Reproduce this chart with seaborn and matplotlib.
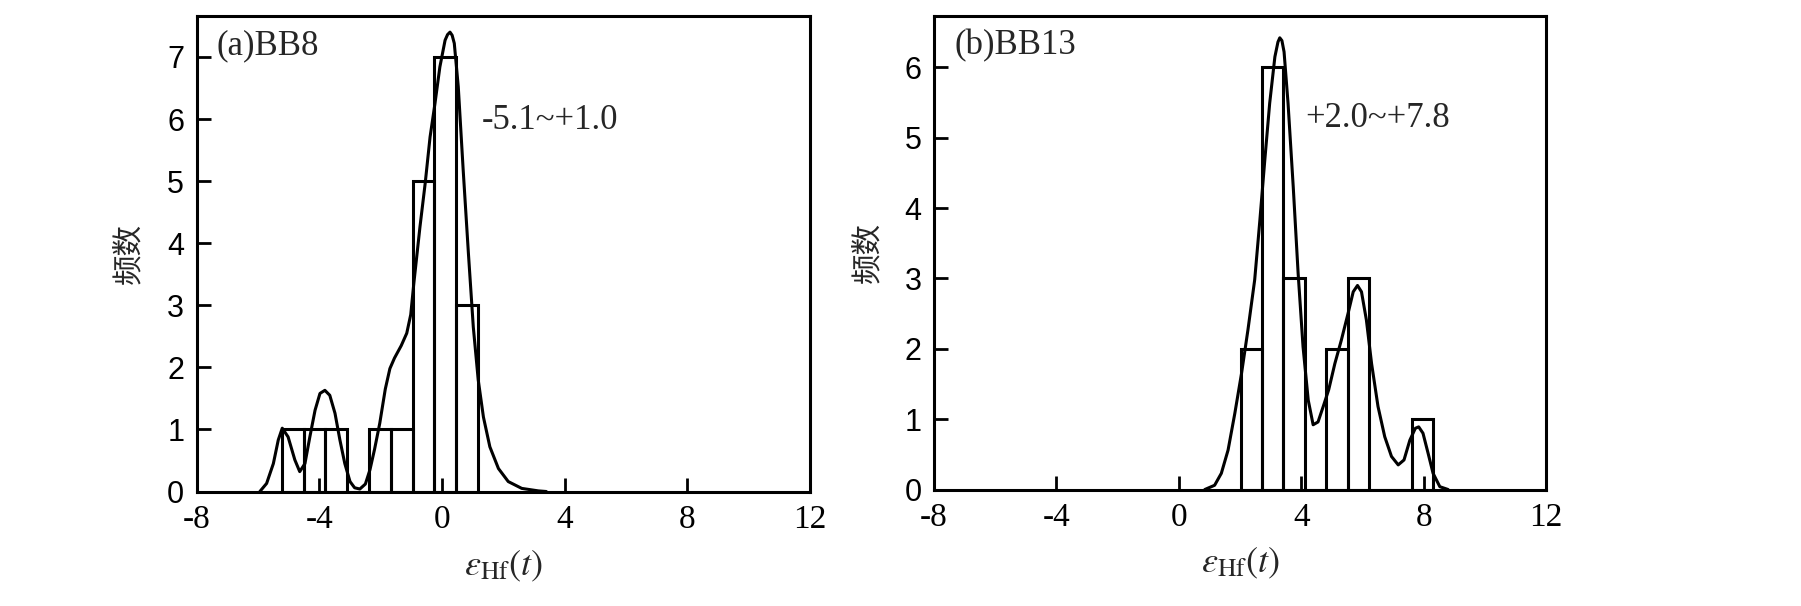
import numpy as np
import matplotlib
matplotlib.use("Agg")
import matplotlib.pyplot as plt
import seaborn as sns

# ---------------- data ----------------
# (a) BB8 histogram
bb8_edges = [-5.22, -4.51, -3.80, -3.09, -2.38, -1.67, -0.96, -0.25, 0.46, 1.17]
bb8_counts = [1, 1, 1, 0, 1, 1, 5, 7, 3]
# (a) BB8 probability curve
bb8_curve_x = [-5.94, -5.72, -5.50, -5.34, -5.21, -5.02, -4.80, -4.64, -4.47, -4.31,
               -4.14, -3.98, -3.82, -3.66, -3.49, -3.33, -3.17, -3.00, -2.85, -2.68,
               -2.50, -2.35, -2.20, -2.03, -1.85, -1.70, -1.55, -1.33, -1.15, -1.02,
               -0.92, -0.72, -0.55, -0.39, -0.23, -0.07, 0.10, 0.18, 0.26, 0.33,
               0.40, 0.53, 0.69, 0.86, 1.02, 1.18, 1.35, 1.56, 1.84, 2.16,
               2.60, 3.14, 3.40]
bb8_curve_y = [0.00, 0.13, 0.45, 0.83, 1.02, 0.88, 0.51, 0.32, 0.45, 0.88,
               1.31, 1.58, 1.63, 1.55, 1.26, 0.83, 0.45, 0.16, 0.06, 0.04,
               0.12, 0.35, 0.68, 1.10, 1.65, 1.98, 2.15, 2.35, 2.55, 2.85,
               3.35, 4.26, 4.96, 5.71, 6.25, 6.84, 7.27, 7.36, 7.40, 7.35,
               7.22, 6.52, 5.18, 3.84, 2.65, 1.80, 1.20, 0.72, 0.37, 0.16,
               0.05, 0.01, 0.00]

# (b) BB13 histogram
bb13_edges = [2.02, 2.72, 3.42, 4.12, 4.82, 5.52, 6.22, 6.92, 7.62, 8.32]
bb13_counts = [2, 6, 3, 0, 2, 3, 0, 0, 1]
# (b) BB13 probability curve
bb13_curve_x = [0.85, 1.17, 1.39, 1.61, 1.83, 2.05, 2.26, 2.48, 2.65, 2.81,
                2.97, 3.14, 3.24, 3.30, 3.37, 3.44, 3.57, 3.74, 3.90, 4.06,
                4.23, 4.39, 4.55, 4.72, 4.90, 5.10, 5.31, 5.53, 5.70, 5.84,
                5.97, 6.13, 6.30, 6.51, 6.73, 6.95, 7.17, 7.36, 7.55, 7.73,
                7.84, 7.98, 8.15, 8.31, 8.53, 8.80]
bb13_curve_y = [0.00, 0.06, 0.23, 0.56, 1.08, 1.65, 2.27, 2.98, 3.83, 4.68,
                5.49, 6.15, 6.36, 6.42, 6.38, 6.22, 5.49, 4.30, 3.07, 2.03,
                1.27, 0.92, 0.96, 1.18, 1.42, 1.79, 2.12, 2.50, 2.81, 2.90,
                2.81, 2.41, 1.79, 1.18, 0.75, 0.47, 0.35, 0.42, 0.70, 0.87,
                0.89, 0.80, 0.51, 0.23, 0.04, 0.00]

panel_labels = ["(a)BB8", "(b)BB13"]
range_labels = ["-5.1~+1.0", "+2.0~+7.8"]
range_label_pos = [(1.31, 5.98), (4.14, 5.28)]
x_ticks = [-8, -4, 0, 4, 8, 12]
y_ticks = [list(range(0, 8)), list(range(0, 7))]
y_limits = [(0, 7.66), (0, 6.73)]
y_label = "频数"
x_label = r"$\varepsilon_{\mathrm{Hf}}(t)$"

# ---------------- style ----------------
sns.set_style("ticks")
plt.rcParams["font.family"] = ["Liberation Serif", "Noto Sans CJK SC", "DejaVu Sans"]
plt.rcParams["mathtext.fontset"] = "stix"
plt.rcParams["axes.axisbelow"] = False

LW = 2.2

fig = plt.figure(figsize=(18.01, 6.06), dpi=100)
W, H = 1801, 606
ax1 = fig.add_axes([196.7 / W, (H - 491.5) / H, 613.3 / W, (491.5 - 16) / H])
ax2 = fig.add_axes([934 / W, (H - 489.5) / H, 612 / W, (489.5 - 16) / H])

panels = [
    (ax1, bb8_edges, bb8_counts, bb8_curve_x, bb8_curve_y),
    (ax2, bb13_edges, bb13_counts, bb13_curve_x, bb13_curve_y),
]

for i, (ax, edges, counts, cx, cy) in enumerate(panels):
    e = np.asarray(edges)
    centers = (e[:-1] + e[1:]) / 2
    sns.histplot(x=centers, weights=counts, bins=edges, ax=ax, fill=False,
                 color="black", linewidth=LW, element="bars")
    sns.lineplot(x=cx, y=cy, ax=ax, color="black", linewidth=LW,
                 estimator=None, sort=False)

    ax.set_xlim(-8, 12)
    ax.set_ylim(*y_limits[i])
    ax.set_xticks(x_ticks)
    ax.set_xticklabels([str(t) for t in x_ticks], fontfamily="Liberation Serif",
                       fontsize=24)
    ax.set_yticks(y_ticks[i])
    ax.set_yticklabels([str(t) for t in y_ticks[i]], fontfamily="Liberation Sans",
                       fontsize=22)
    ax.tick_params(axis="x", direction="in", length=10, width=2.0, pad=9,
                   top=False, bottom=True, colors="black")
    ax.tick_params(axis="y", direction="in", length=10, width=2.0, pad=9,
                   right=False, left=True, colors="black")
    ax.set_axisbelow(False)
    for sp in ax.spines.values():
        sp.set_visible(True)
        sp.set_linewidth(LW)
        sp.set_color("black")

    ax.set_ylabel(y_label, fontfamily=["Noto Sans CJK SC"], fontsize=22)
    ax.yaxis.label.set_verticalalignment("center")
    ax.yaxis.set_label_coords(-0.1115 if i == 0 else -0.108, 0.5)
    ax.set_xlabel(x_label, fontsize=26)
    ax.xaxis.label.set_verticalalignment("center")
    ax.xaxis.set_label_coords(0.5, -0.157)

    ax.text(0.033, 0.938, panel_labels[i], transform=ax.transAxes,
            ha="left", va="center", fontsize=25, fontfamily="Liberation Serif")
    ax.text(range_label_pos[i][0], range_label_pos[i][1], range_labels[i],
            ha="left", va="center", fontsize=25, fontfamily="Liberation Serif")

fig.savefig("out.png", dpi=100)
